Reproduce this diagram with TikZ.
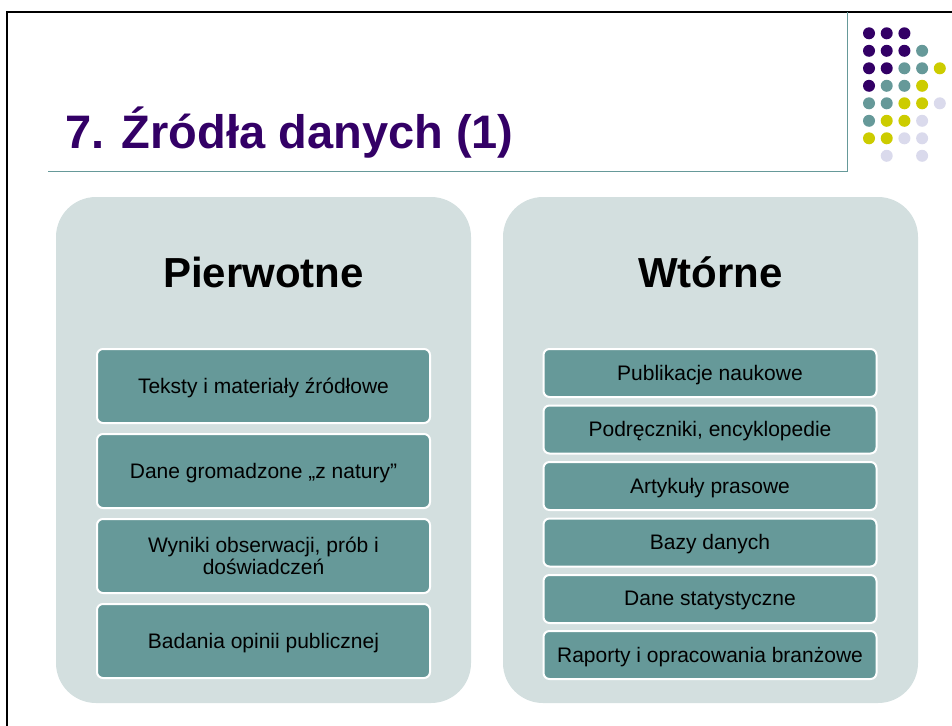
\documentclass[tikz,border=0pt]{standalone}
\usepackage{fontspec}
\setmainfont{Liberation Sans}
\definecolor{titlepurple}{HTML}{330066}
\definecolor{tealc}{HTML}{669999}
\definecolor{yellowc}{HTML}{CCCC00}
\definecolor{lavc}{HTML}{DADAEC}
\definecolor{panelc}{HTML}{D3DFDF}
\begin{document}
\begin{tikzpicture}[x=1pt,y=-1pt,
  panel/.style={fill=panelc, draw=none, rounded corners=40pt, minimum width=415pt, minimum height=506pt, inner sep=0pt},
  itembox/.style={fill=tealc, draw=white, line width=2pt, rounded corners=6pt, minimum width=333pt, inner sep=0pt, align=center, font=\fontsize{21}{21}\selectfont, text=black, text depth=1pt},
  lefti/.style={itembox, minimum height=74pt},
  righti/.style={itembox, minimum height=48pt},
  heading/.style={font=\fontsize{42}{42}\selectfont\bfseries, text=black, anchor=base, inner sep=0pt},
  dotP/.style={fill=titlepurple},
  dotT/.style={fill=tealc},
  dotY/.style={fill=yellowc},
  dotL/.style={fill=lavc}]
\useasboundingbox (0,0) rectangle (952,725);
% slide frame
\coordinate (fbl) at (7,726);
\coordinate (ftl) at (7,12);
\coordinate (ftr) at (953,12);
\draw[black, line width=2pt] (fbl) -- (ftl) -- (ftr);
% title rule
\coordinate (rl) at (48,171);
\coordinate (rc) at (847,171);
\coordinate (rt) at (847,12);
\draw[tealc, line width=1pt] (rl) -- (rc) -- (rt);
% title
\node[anchor=base west, inner sep=0pt, text=titlepurple, font=\fontsize{47}{47}\selectfont\bfseries] (title) at (65,148) {7. Źródła danych (1)};
% dots
\foreach \c/\r/\s in {0/0/P,1/0/P,2/0/P,
  0/1/P,1/1/P,2/1/P,3/1/T,
  0/2/P,1/2/P,2/2/T,3/2/T,4/2/Y,
  0/3/P,1/3/T,2/3/T,3/3/Y,
  0/4/T,1/4/T,2/4/Y,3/4/Y,4/4/L,
  0/5/T,1/5/Y,2/5/Y,3/5/L,
  0/6/Y,1/6/Y,2/6/L,3/6/L,
  1/7/L,3/7/L}
  \fill[dot\s] ({869+17.7*\c},{33.3+17.5*\r}) circle (6pt);
% panels
\node[panel] (pl) at (263.5,450) {};
\node[panel] (pr) at (710.5,450) {};
\node[heading] (hl) at (263.5,287) {Pierwotne};
\node[heading] (hr) at (710.5,287) {Wtórne};
% left items
\node[lefti] (l1) at (263.5,386) {Teksty i materiały źródłowe};
\node[lefti] (l2) at (263.5,471) {Dane gromadzone „z natury”};
\node[lefti] (l3) at (263.5,556) {Wyniki obserwacji, prób i\\[1pt]doświadczeń};
\node[lefti] (l4) at (263.5,641) {Badania opinii publicznej};
% right items
\node[righti] (r1) at (710,373) {Publikacje naukowe};
\node[righti] (r2) at (710,429.5) {Podręczniki, encyklopedie};
\node[righti] (r3) at (710,486) {Artykuły prasowe};
\node[righti] (r4) at (710,542.5) {Bazy danych};
\node[righti] (r5) at (710,599) {Dane statystyczne};
\node[righti] (r6) at (710,655) {Raporty i opracowania branżowe};
\end{tikzpicture}
\end{document}
